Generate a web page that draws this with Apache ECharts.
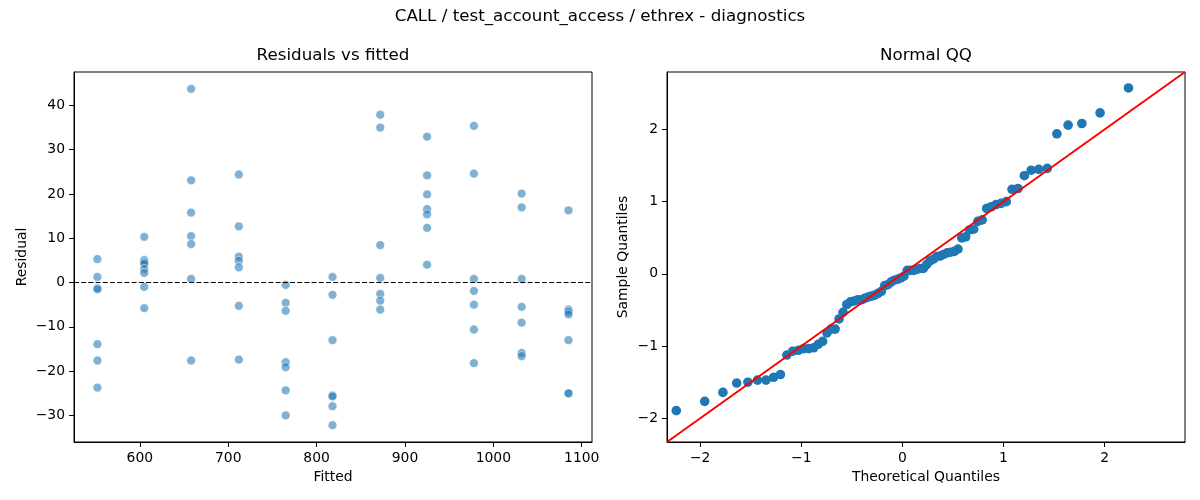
<!DOCTYPE html>
<html><head><meta charset="utf-8">
<script src="https://cdn.jsdelivr.net/npm/echarts@6/dist/echarts.min.js"></script>
<style>html,body{margin:0;padding:0;background:#fff}#c{width:1200px;height:500px}</style>
</head><body><div id="c"></div>
<script>
// ---- data ----
const fitted = [552, 605, 658, 712, 765, 818, 872, 925, 978, 1032, 1085];
const resid552 = [5.3, 1.27, -1.27, -1.5, -13.9, -17.6, -23.7];
const resid605 = [10.34, 5.1, 4.57, 4.2, 3.08, 2.18, -0.97, -5.78];
const resid658 = [43.75, 23.1, 15.8, 10.5, 8.7, 0.82, -17.6];
const resid712 = [24.4, 12.7, 5.84, 4.94, 3.45, -5.24, -17.4];
const resid765 = [-0.52, -4.57, -6.37, -17.98, -19.1, -24.35, -30.0];
const resid818 = [1.27, -2.77, -13.0, -25.5, -25.7, -27.9, -32.2];
const resid872 = [37.9, 35.0, 8.46, 1.05, -2.55, -4.1, -6.1];
const resid925 = [32.96, 24.2, 19.9, 16.6, 15.4, 12.36, 4.04];
const resid978 = [35.4, 24.6, 0.82, -1.87, -5.0, -10.6, -18.2];
const resid1032 = [20.1, 17.0, 0.82, -5.47, -9.06, -15.9, -16.6];
const resid1085 = [16.3, -6.1, -6.6, -7.2, -13.0, -25.0, -25.0];
const residualGroups = [resid552, resid605, resid658, resid712, resid765, resid818,
  resid872, resid925, resid978, resid1032, resid1085];

const theoQ = [-2.236, -1.955, -1.775, -1.639, -1.528, -1.433, -1.349, -1.274, -1.206, -1.143,
  -1.084, -1.028, -0.976, -0.926, -0.878, -0.833, -0.789, -0.746, -0.705, -0.665,
  -0.626, -0.587, -0.550, -0.514, -0.478, -0.442, -0.407, -0.373, -0.340, -0.306,
  -0.273, -0.240, -0.208, -0.175, -0.143, -0.111, -0.080, -0.048, -0.016,
  0.016, 0.048, 0.080, 0.111, 0.143, 0.175, 0.208, 0.240, 0.273, 0.306,
  0.340, 0.373, 0.407, 0.442, 0.478, 0.514, 0.550, 0.587, 0.626, 0.665,
  0.705, 0.746, 0.789, 0.833, 0.878, 0.926, 0.976, 1.028, 1.084, 1.143,
  1.206, 1.274, 1.349, 1.433, 1.528, 1.639, 1.775, 1.955, 2.236];
const sampleQ = [-1.894, -1.765, -1.641, -1.512, -1.500, -1.471, -1.471, -1.432, -1.394, -1.124,
  -1.071, -1.058, -1.035, -1.035, -1.024, -0.976, -0.935, -0.818, -0.765, -0.765,
  -0.624, -0.533, -0.424, -0.388, -0.375, -0.359, -0.359, -0.340, -0.322, -0.308,
  -0.294, -0.269, -0.241, -0.163, -0.150, -0.110, -0.088, -0.075, -0.057, -0.031,
  0.048, 0.048, 0.048, 0.062, 0.075, 0.075, 0.128, 0.181, 0.203, 0.238,
  0.247, 0.269, 0.291, 0.300, 0.312, 0.344, 0.498, 0.512, 0.608, 0.618,
  0.727, 0.747, 0.906, 0.929, 0.959, 0.976, 1.000, 1.171, 1.182, 1.359,
  1.435, 1.448, 1.460, 1.939, 2.059, 2.082, 2.229, 2.574];

const leftXTicks = [600, 700, 800, 900, 1000, 1100];
const leftYTicks = [-30, -20, -10, 0, 10, 20, 30, 40];
const qqTicks = [-2, -1, 0, 1, 2];
const leftXRange = [525.5, 1111.6];
const leftYRange = [-36.0, 47.55];
const qqRange = [-2.328, 2.795];

// ---- build ----
const residPoints = [];
fitted.forEach((f, i) => residualGroups[i].forEach(r => residPoints.push([f, r])));
const qqPoints = theoQ.map((t, i) => [t, sampleQ[i]]);
const lineData = qqRange.map(v => [v, v]);

const FONT = 'DejaVu Sans';
const minus = v => String(v).replace('-', '\u2212');
function axis(ticks, range, name, gap, extra) {
  return Object.assign({
    type: 'value', min: range[0], max: range[1],
    splitLine: { show: false },
    axisLine: { show: true, onZero: false, lineStyle: { color: '#000', width: 1 } },
    axisTick: { show: true, length: 5, customValues: ticks, lineStyle: { color: '#000', width: 1 } },
    axisLabel: { customValues: ticks, color: '#000', fontFamily: FONT, fontSize: 13.9, margin: 9, formatter: minus },
    name: name, nameLocation: 'middle', nameGap: gap,
    nameTextStyle: { color: '#000', fontFamily: FONT, fontSize: 13.9 }
  }, extra || {});
}

const chart = echarts.init(document.getElementById('c'), null, { renderer: 'canvas' });
chart.setOption({
  animation: false,
  backgroundColor: '#fff',
  graphic: [
    { type: 'text', left: 'center', top: 8, style: { text: 'CALL / test_account_access / ethrex - diagnostics', font: '16.7px "DejaVu Sans"', fill: '#000' } },
    { type: 'text', x: 333, y: 56, style: { text: 'Residuals vs fitted', font: '16.7px "DejaVu Sans"', fill: '#000', textAlign: 'center', textVerticalAlign: 'middle' } },
    { type: 'text', x: 926, y: 56, style: { text: 'Normal QQ', font: '16.7px "DejaVu Sans"', fill: '#000', textAlign: 'center', textVerticalAlign: 'middle' } }
  ],
  grid: [
    { left: 74, top: 72, width: 518, height: 370, show: true, borderColor: '#000', borderWidth: 1, backgroundColor: 'transparent' },
    { left: 667, top: 72, width: 518, height: 370, show: true, borderColor: '#000', borderWidth: 1, backgroundColor: 'transparent' }
  ],
  xAxis: [
    axis(leftXTicks, leftXRange, 'Fitted', 28, { gridIndex: 0 }),
    axis(qqTicks, qqRange, 'Theoretical Quantiles', 28, { gridIndex: 1 })
  ],
  yAxis: [
    axis(leftYTicks, leftYRange, 'Residual', 45, { gridIndex: 0 }),
    axis(qqTicks, qqRange, 'Sample Quantiles', 37, { gridIndex: 1 })
  ],
  series: [
    {
      type: 'scatter', xAxisIndex: 0, yAxisIndex: 0, data: residPoints, symbolSize: 8.8,
      itemStyle: { color: 'rgba(31,119,180,0.72)', borderColor: 'rgba(255,255,255,0.9)', borderWidth: 0.7 },
      markLine: {
        silent: true, symbol: 'none', animation: false, label: { show: false },
        lineStyle: { type: [5, 2.2], color: '#000', width: 1.2 },
        data: [{ yAxis: 0 }]
      }
    },
    {
      type: 'scatter', xAxisIndex: 1, yAxisIndex: 1, data: qqPoints, symbolSize: 9.6,
      itemStyle: { color: '#1f77b4', opacity: 1 }
    },
    {
      type: 'line', xAxisIndex: 1, yAxisIndex: 1, data: lineData, symbol: 'none', z: 5,
      lineStyle: { color: '#ff0000', width: 2 }
    }
  ]
});
</script>
</body></html>
